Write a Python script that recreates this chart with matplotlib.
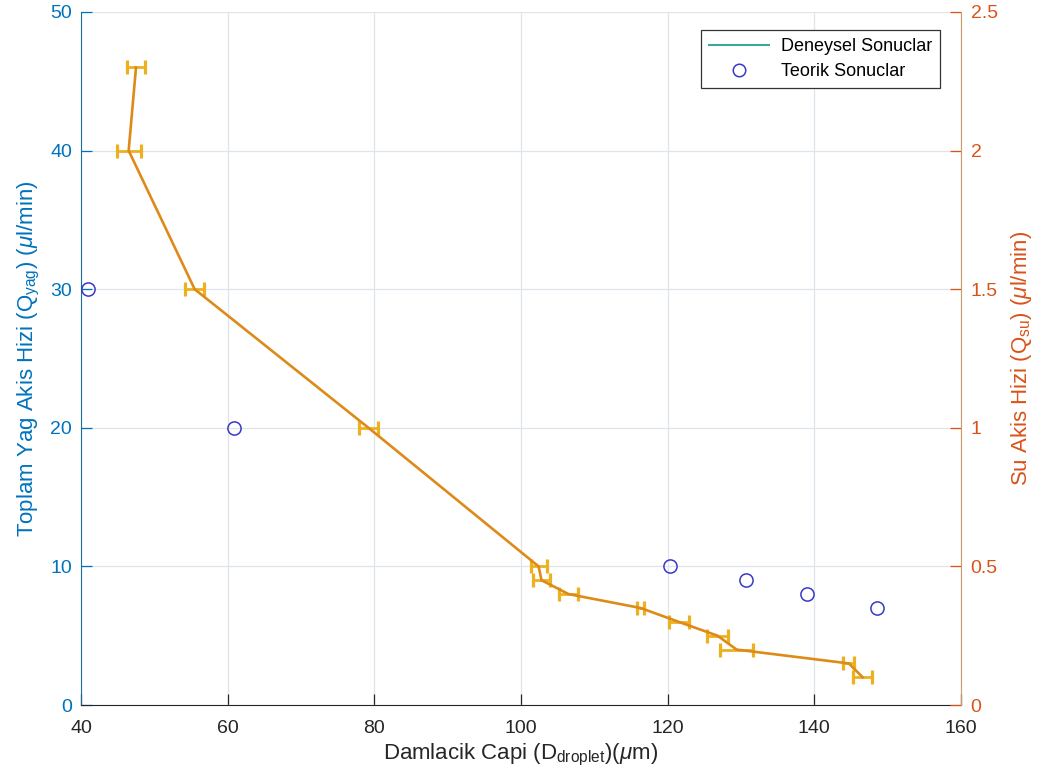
import matplotlib
matplotlib.use("Agg")
import matplotlib.pyplot as plt
from matplotlib.lines import Line2D
from matplotlib.ticker import FuncFormatter

# Experimental results: droplet diameter (um) with horizontal uncertainty,
# water flow rate on the right-hand axis
d_exp = [47.5, 46.5, 55.5, 79.2, 102.4, 102.8, 106.5, 116.3, 121.5, 126.8, 129.4, 144.7, 146.6]
d_err = [1.25, 1.65, 1.3, 1.35, 1.1, 1.2, 1.3, 0.5, 1.35, 1.45, 2.3, 0.75, 1.3]
q_su = [2.3, 2.0, 1.5, 1.0, 0.5, 0.45, 0.4, 0.35, 0.3, 0.25, 0.2, 0.15, 0.1]

# Theoretical results: droplet diameter vs. total oil flow rate (left axis)
d_teo = [41.0, 60.8, 120.3, 130.7, 139.0, 148.5]
q_yag = [30, 20, 10, 9, 8, 7]

x_ticks = [40, 60, 80, 100, 120, 140, 160]
yl_ticks = [0, 10, 20, 30, 40, 50]
yr_ticks = [0, 0.5, 1, 1.5, 2, 2.5]

plt.rcParams['font.family'] = ['Liberation Sans', 'DejaVu Sans']
plt.rcParams['mathtext.fontset'] = 'custom'
plt.rcParams['mathtext.rm'] = 'Liberation Sans'
plt.rcParams['mathtext.it'] = 'Liberation Sans:italic'

C_LEFT = '#0072BD'
C_RIGHT = '#D95319'
C_BAR = '#EDB120'
C_LINE = '#DE8A18'
C_CIRC = '#3838C8'

fig = plt.figure(figsize=(10.45, 7.75), dpi=100)
ax = fig.add_axes([81/1045, 1-705/775, 880/1045, 693/775])
ax2 = ax.twinx()

# theoretical points on the left axis
ax.plot(d_teo, q_yag, linestyle='none', marker='o', markersize=9.5,
        markerfacecolor='none', markeredgecolor=C_CIRC, markeredgewidth=1.1,
        zorder=3)

ax.set_xlim(40, 160)
ax.set_ylim(0, 50)
ax.set_xticks(x_ticks)
ax.set_yticks(yl_ticks)
ax.grid(True, color='#dfe4ea', linewidth=0.9)
ax.set_axisbelow(True)

# experimental curve with horizontal error bars on the right axis
ax2.errorbar(d_exp, q_su, xerr=d_err, fmt='none', ecolor=C_BAR,
             elinewidth=2.0, capsize=4.7, capthick=2.3, zorder=3)
ax2.plot(d_exp, q_su, color=C_LINE, linewidth=1.9, zorder=4)
ax2.set_ylim(0, 2.5)
ax2.set_yticks(yr_ticks)
ax2.yaxis.set_major_formatter(FuncFormatter(lambda v, p: f'{v:g}'))

tick_fs = 14
ax.tick_params(axis='x', direction='in', length=8, width=0.9, labelsize=tick_fs,
               colors='#262626', pad=11, top=False)
ax.tick_params(axis='y', direction='in', length=8, width=0.9, labelsize=tick_fs,
               colors=C_LEFT, pad=6.5)
ax2.tick_params(axis='y', direction='in', length=8, width=0.9, labelsize=tick_fs,
                colors=C_RIGHT, pad=7)

for a in (ax, ax2):
    a.spines['top'].set_visible(False)
ax.spines['bottom'].set_color('#262626')
ax.spines['left'].set_color('#1a6e9a')
ax.spines['right'].set_visible(False)
ax2.spines['left'].set_visible(False)
ax2.spines['bottom'].set_visible(False)
ax2.spines['right'].set_color('#cf9a6a')

lab_fs = 16
ax.set_xlabel(r'Damlacik Capi (D$_{\mathrm{droplet}}$)($\mu$m)', fontsize=lab_fs,
              color='#262626', labelpad=3)
ax.set_ylabel(r'Toplam Yag Akis Hizi (Q$_{\mathrm{yag}}$) ($\mu$l/min)', fontsize=lab_fs,
              color=C_LEFT, labelpad=6)
ax2.set_ylabel(r'Su Akis Hizi (Q$_{\mathrm{su}}$) ($\mu$l/min)', fontsize=lab_fs,
               color=C_RIGHT, labelpad=8)

handles = [
    Line2D([], [], color='#3aa6a0', linewidth=1.5),
    Line2D([], [], linestyle='none', marker='o', markersize=9,
           markerfacecolor='none', markeredgecolor=C_CIRC, markeredgewidth=1.1),
]
leg = ax2.legend(handles, ['Deneysel Sonuclar', 'Teorik Sonuclar'],
                 loc='upper right', bbox_to_anchor=(1 - 21/880, 1 - 18/693),
                 fontsize=13, frameon=True, fancybox=False,
                 handlelength=3.3, handletextpad=0.65, borderpad=0.45,
                 labelspacing=0.45, borderaxespad=0.0)
leg.get_frame().set_edgecolor('#333333')
leg.get_frame().set_linewidth(0.9)
leg.get_frame().set_alpha(1.0)

fig.savefig('out.png', dpi=100)
